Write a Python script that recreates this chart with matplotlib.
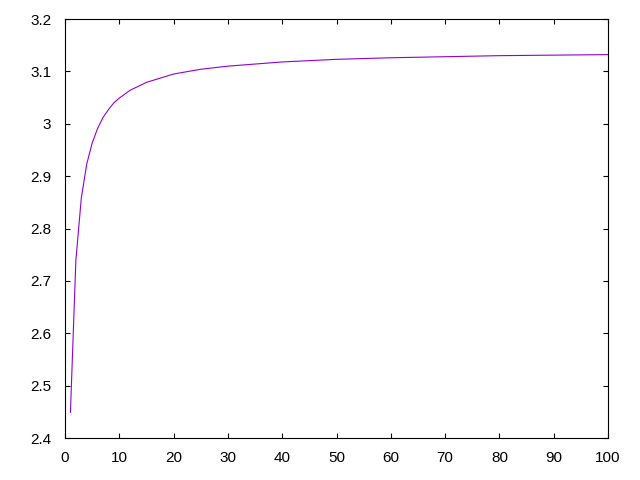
import matplotlib.pyplot as plt
from matplotlib.ticker import FuncFormatter

plt.rcParams['font.family'] = ['Liberation Sans', 'DejaVu Sans']

# values
x = [1, 2, 3, 4, 5, 6, 7, 8, 9, 10, 12, 15, 20, 25, 30, 40, 50, 60, 70, 80, 90, 100]
y = [2.449, 2.739, 2.858, 2.923, 2.963, 2.991, 3.012, 3.027, 3.040, 3.049,
     3.064, 3.079, 3.095, 3.104, 3.110, 3.118, 3.123, 3.126, 3.128, 3.130,
     3.131, 3.132]

xticks = [0, 10, 20, 30, 40, 50, 60, 70, 80, 90, 100]
yticks = [2.4, 2.5, 2.6, 2.7, 2.8, 2.9, 3.0, 3.1, 3.2]

fig = plt.figure(figsize=(6.4, 4.8), dpi=100)
ax = fig.add_axes([65 / 640, 1 - 438 / 480, (608 - 65) / 640, (438 - 19) / 480])
ax.plot(x, y, color='#9400d3', linewidth=0.8)

ax.set_xlim(0, 100)
ax.set_ylim(2.4, 3.2)
ax.set_xticks(xticks)
ax.set_yticks(yticks)
ax.yaxis.set_major_formatter(FuncFormatter(lambda v, p: f'{v:g}'))
ax.tick_params(direction='in', top=True, right=True, length=3.5, width=0.8,
               labelsize=11)
ax.tick_params(axis='x', pad=9)
ax.tick_params(axis='y', pad=10)
for s in ax.spines.values():
    s.set_linewidth(0.8)

fig.savefig('out.png', dpi=100)
